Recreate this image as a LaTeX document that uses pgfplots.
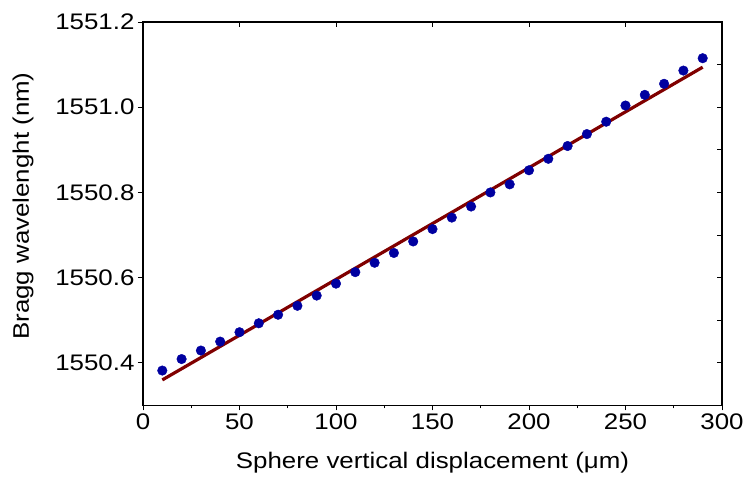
\documentclass[border=0pt]{standalone}
\usepackage{pgfplots}
\pgfplotsset{compat=1.18}
\usepackage{fontspec}
\setmainfont{Liberation Sans}[FakeStretch=1.15]
\definecolor{ptblue}{RGB}{0,0,160}
\definecolor{fitred}{RGB}{128,0,0}
\begin{document}
\begin{tikzpicture}
\pgfplotsset{
  common/.style={
    scale only axis, width=579bp, height=383.5bp,
    at={(0,0)}, anchor=south west,
    xmin=0, xmax=300, ymin=1550.3, ymax=1551.2,
    axis line style={line width=1.1bp, black},
    every tick/.style={black, line width=0.9bp},
    major tick length=5bp, minor tick length=3bp,
  }
}
\begin{axis}[common,
  tick align=outside,
  xtick pos=bottom, ytick pos=left,
  xtick={0,50,100,150,200,250,300},
  minor xtick={25,75,125,175,225,275},
  ytick={1550.4,1550.6,1550.8,1551.0,1551.2},
  /pgf/number format/assume math mode=true,
  ticklabel style={font=\fontsize{22.5bp}{26bp}\selectfont},
  yticklabel style={/pgf/number format/.cd, fixed, fixed zerofill, precision=1, 1000 sep={}},
  xticklabel style={/pgf/number format/.cd, fixed, precision=0},
  label style={font=\fontsize{22.5bp}{26bp}\selectfont},
  xlabel={Sphere vertical displacement (μm)},
  ylabel={Bragg wavelenght (nm)},
  xlabel style={at={(axis description cs:0.5,0)}, anchor=center, yshift=-57bp},
  ylabel style={at={(axis description cs:0,0.52)}, anchor=center, rotate=0, yshift=120bp},
  clip=false,
]
\addplot[only marks, mark=*, mark size=4.8bp, ptblue] coordinates {
(10,1550.382) (20,1550.409) (30,1550.429) (40,1550.450) (50,1550.472)
(60,1550.493) (70,1550.513) (80,1550.534) (90,1550.558) (100,1550.586)
(110,1550.613) (120,1550.635) (130,1550.658) (140,1550.685) (150,1550.714)
(160,1550.741) (170,1550.767) (180,1550.800) (190,1550.819) (200,1550.852)
(210,1550.879) (220,1550.909) (230,1550.937) (240,1550.966) (250,1551.004)
(260,1551.029) (270,1551.055) (280,1551.086) (290,1551.115)
};
\addplot[fitred, line width=3.2bp] coordinates {(10,1550.360) (290,1551.094)};
\end{axis}
\begin{axis}[common,
  tick align=inside,
  xtick pos=top, ytick pos=right,
  xtick={0,50,100,150,200,250,300},
  ytick={1550.3,1550.4,1550.5,1550.6,1550.7,1550.8,1550.9,1551.0,1551.1,1551.2},
  xticklabels={}, yticklabels={},
]
\end{axis}
\pgfresetboundingbox
\path[use as bounding box] (-143bp,-83bp) rectangle (603bp,405.5bp);
\end{tikzpicture}
\end{document}
